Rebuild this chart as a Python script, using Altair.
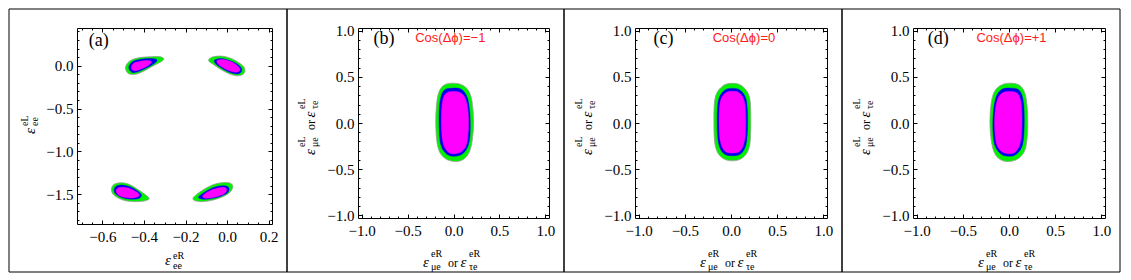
import altair as alt
import pandas as pd

SERIF = "Liberation Serif"
SANS = "Liberation Sans"

# ---------------- tick values ----------------
A_X_MAJOR = [-0.6, -0.4, -0.2, 0.0, 0.2]
A_X_MINOR = [-0.70, -0.65, -0.55, -0.50, -0.45, -0.35, -0.30, -0.25,
             -0.15, -0.10, -0.05, 0.05, 0.10, 0.15]
A_Y_MAJOR = [0.0, -0.5, -1.0, -1.5]
A_Y_MINOR = [0.4, 0.3, 0.2, 0.1, -0.1, -0.2, -0.3, -0.4, -0.6, -0.7, -0.8,
             -0.9, -1.1, -1.2, -1.3, -1.4, -1.6, -1.7, -1.8]
B_MAJOR = [-1.0, -0.5, 0.0, 0.5, 1.0]
B_MINOR = [-0.9, -0.8, -0.7, -0.6, -0.4, -0.3, -0.2, -0.1,
           0.1, 0.2, 0.3, 0.4, 0.6, 0.7, 0.8, 0.9]

A_XDOM = [-0.722, 0.216]
A_YDOM = [-1.846, 0.44]
B_XDOM = [-1.04, 1.04]
B_YDOM = [-1.03, 1.03]

# ---------------- contour outlines ----------------
A_TL_GREEN = [(-0.489, -0.025), (-0.476, 0.039), (-0.449, 0.078), (-0.410, 0.098), (-0.362, 0.105),
              (-0.322, 0.105), (-0.305, 0.082), (-0.314, 0.051), (-0.354, 0.000), (-0.402, -0.065),
              (-0.441, -0.100), (-0.475, -0.092)]
A_TL_BLUE = [(-0.473, -0.025), (-0.461, 0.035), (-0.434, 0.066), (-0.394, 0.082), (-0.354, 0.082),
             (-0.337, 0.066), (-0.349, 0.028), (-0.386, -0.025), (-0.426, -0.068), (-0.457, -0.078)]
A_TL_MAG = [(-0.461, -0.021), (-0.449, 0.029), (-0.422, 0.049), (-0.386, 0.060), (-0.365, 0.049),
            (-0.372, 0.018), (-0.397, -0.021), (-0.429, -0.052), (-0.451, -0.056)]

A_TR_GREEN = [(-0.089, 0.059), (-0.073, 0.100), (-0.029, 0.112), (0.019, 0.085), (0.059, 0.032),
              (0.084, -0.027), (0.081, -0.092), (0.051, -0.118), (0.011, -0.095), (-0.029, -0.045),
              (-0.064, 0.012)]
A_TR_BLUE = [(-0.060, 0.066), (-0.029, 0.085), (0.011, 0.062), (0.047, 0.022), (0.070, -0.035),
             (0.063, -0.085), (0.038, -0.095), (0.003, -0.068), (-0.032, -0.019), (-0.057, 0.028)]
A_TR_MAG = [(-0.048, 0.062), (-0.013, 0.070), (0.022, 0.042), (0.051, -0.004), (0.062, -0.052),
            (0.045, -0.075), (0.011, -0.060), (-0.021, -0.021), (-0.043, 0.020)]

A_BL_GREEN = [(-0.556, -1.437), (-0.545, -1.386), (-0.513, -1.365), (-0.473, -1.382), (-0.434, -1.435),
              (-0.402, -1.488), (-0.375, -1.546), (-0.394, -1.575), (-0.434, -1.585), (-0.481, -1.578),
              (-0.521, -1.547), (-0.549, -1.497)]
A_BL_BLUE = [(-0.543, -1.440), (-0.532, -1.404), (-0.505, -1.392), (-0.470, -1.410), (-0.438, -1.449),
             (-0.412, -1.505), (-0.425, -1.548), (-0.465, -1.556), (-0.502, -1.540), (-0.529, -1.508),
             (-0.541, -1.475)]
A_BL_MAG = [(-0.534, -1.450), (-0.521, -1.422), (-0.497, -1.418), (-0.463, -1.438), (-0.432, -1.478),
            (-0.423, -1.515), (-0.445, -1.540), (-0.481, -1.540), (-0.513, -1.522), (-0.529, -1.494)]

A_BR_GREEN = [(-0.164, -1.545), (-0.140, -1.488), (-0.108, -1.437), (-0.068, -1.388), (-0.029, -1.366),
              (0.010, -1.366), (0.028, -1.405), (0.014, -1.476), (-0.021, -1.528), (-0.068, -1.567),
              (-0.116, -1.585), (-0.153, -1.576)]
A_BR_BLUE = [(-0.138, -1.536), (-0.116, -1.486), (-0.084, -1.440), (-0.045, -1.406), (-0.013, -1.400),
             (0.008, -1.422), (0.003, -1.480), (-0.029, -1.522), (-0.068, -1.546), (-0.110, -1.558)]
A_BR_MAG = [(-0.118, -1.522), (-0.095, -1.472), (-0.061, -1.437), (-0.029, -1.419), (-0.005, -1.430),
            (-0.005, -1.472), (-0.030, -1.512), (-0.068, -1.538), (-0.103, -1.545)]

B_GREEN = [(-0.014, 0.432), (0.111, 0.403), (0.190, 0.288), (0.218, 0.036), (0.200, -0.215),
           (0.147, -0.359), (0.046, -0.417), (-0.086, -0.388), (-0.168, -0.269), (-0.193, 0.000),
           (-0.175, 0.270), (-0.122, 0.396)]
B_BLUE = [(-0.014, 0.378), (0.093, 0.360), (0.157, 0.252), (0.182, 0.036), (0.172, -0.197),
          (0.118, -0.316), (0.032, -0.359), (-0.068, -0.341), (-0.139, -0.233), (-0.157, 0.000),
          (-0.147, 0.234), (-0.104, 0.353)]
B_MAG = [(-0.014, 0.342), (0.082, 0.324), (0.139, 0.234), (0.164, 0.036), (0.150, -0.197),
         (0.104, -0.295), (0.032, -0.330), (-0.057, -0.316), (-0.114, -0.215), (-0.132, 0.000),
         (-0.122, 0.216), (-0.086, 0.317)]

C_GREEN = [(0.015, 0.430), (0.120, 0.400), (0.200, 0.280), (0.215, 0.020), (0.200, -0.250),
           (0.130, -0.375), (0.015, -0.410), (-0.100, -0.375), (-0.170, -0.250), (-0.185, 0.020),
           (-0.170, 0.280), (-0.090, 0.400)]
C_BLUE = [(0.015, 0.375), (0.100, 0.355), (0.165, 0.250), (0.180, 0.020), (0.165, -0.220),
          (0.110, -0.330), (0.015, -0.355), (-0.080, -0.330), (-0.135, -0.220), (-0.150, 0.020),
          (-0.135, 0.250), (-0.070, 0.355)]
C_MAG = [(0.015, 0.345), (0.090, 0.325), (0.145, 0.235), (0.160, 0.020), (0.145, -0.200),
         (0.095, -0.305), (0.015, -0.325), (-0.065, -0.305), (-0.115, -0.200), (-0.130, 0.020),
         (-0.115, 0.235), (-0.060, 0.325)]

D_GREEN = [(0.024, 0.432), (0.130, 0.396), (0.185, 0.270), (0.203, 0.000), (0.180, -0.269),
           (0.098, -0.388), (-0.034, -0.417), (-0.137, -0.359), (-0.188, -0.215), (-0.206, 0.036),
           (-0.178, 0.288), (-0.099, 0.403)]
D_BLUE = [(0.022, 0.378), (0.112, 0.353), (0.155, 0.234), (0.165, 0.000), (0.147, -0.233),
          (0.076, -0.341), (-0.024, -0.359), (-0.110, -0.316), (-0.164, -0.197), (-0.174, 0.036),
          (-0.149, 0.252), (-0.085, 0.360)]
D_MAG = [(0.022, 0.342), (0.094, 0.317), (0.130, 0.216), (0.140, 0.000), (0.122, -0.215),
         (0.065, -0.316), (-0.024, -0.330), (-0.096, -0.295), (-0.142, -0.197), (-0.156, 0.036),
         (-0.131, 0.234), (-0.074, 0.324)]

# ---------------- texts ----------------
PANEL_LABELS = ["(a)", "(b)", "(c)", "(d)"]
COS_TEXTS = ["Cos(Δϕ)=−1", "Cos(Δϕ)=0", "Cos(Δϕ)=+1"]
# (text, along, perp, size, style)
A_XTITLE = [("ε", 0, 0, 15, "italic"), ("eR", 8, -6, 10, "normal"), ("ee", 8, 3.5, 10, "normal")]
A_YTITLE = [("ε", 0, 0, 15, "italic"), ("eL", 8, -6.5, 10, "normal"), ("ee", 8, 3.5, 10, "normal")]
B_XTITLE = [("ε", 0, 0, 15, "italic"), ("eR", 8, -10, 10, "normal"), ("μe", 8, 3, 10, "normal"),
            ("or", 25, 0, 12, "normal"),
            ("ε", 37.5, 0, 15, "italic"), ("eR", 46, -10, 10, "normal"), ("τe", 46, 3, 10, "normal")]
B_YTITLE = [("ε", 0, 0, 15, "italic"), ("eL", 8, -10, 10, "normal"), ("μe", 8, 3, 10, "normal"),
            ("or", 25, 0, 12, "normal"),
            ("ε", 37.5, 0, 15, "italic"), ("eL", 46, -10, 10, "normal"), ("τe", 46, 3, 10, "normal")]

GREEN = "#00f000"
BLUE = "#0000ee"
MAGENTA = "#ff00ff"
RED = "#ff1a1a"

# frame margins around each plot area (pixels)
TOP_M = 19
LEFT_M = 71
RIGHT_M = 15
FRAME_H = 263

ONE = pd.DataFrame({"k": [0]})


def shape_df(shapes):
    rows = []
    for name, pts in shapes:
        for i, (x, y) in enumerate(pts):
            rows.append({"blob": name, "i": i, "x": x, "y": y})
    return pd.DataFrame(rows)


def contour(shapes, color, xs, ys, stroke, sw):
    return alt.Chart(shape_df(shapes)).mark_line(
        interpolate="cardinal-closed", fill=color, stroke=stroke, strokeWidth=sw
    ).encode(
        x=alt.X("x:Q", scale=xs, axis=None),
        y=alt.Y("y:Q", scale=ys, axis=None),
        detail="blob:N",
        order="i:Q",
    )


def mk_axis(orient, values, size, labels, pad=4):
    d = dict(orient=orient, values=values, offset=-size, tickSize=size, domain=False,
             grid=False, labels=labels, title=None, tickColor="black", tickWidth=1, ticks=True,
             minExtent=0, maxExtent=60)
    if labels:
        d.update(format=".1f", labelFont=SERIF, labelFontSize=15, labelColor="black",
                 labelPadding=pad, labelFlush=False, labelOverlap=False)
    return alt.Axis(**d)


def axis_layer(xs, ys, xv, yv, xaxis, yaxis):
    df = pd.DataFrame({"x": [xv], "y": [yv]})
    return alt.Chart(df).mark_point(opacity=0).encode(
        x=alt.X("x:Q", scale=xs, axis=xaxis),
        y=alt.Y("y:Q", scale=ys, axis=yaxis),
    )


def ptext(x, y, text, size, style="normal", angle=0):
    return alt.Chart(ONE).mark_text(
        text=text, font=SERIF, fontSize=size, fontStyle=style, angle=angle,
        color="black", align="left", baseline="alphabetic"
    ).encode(x=alt.value(x), y=alt.value(y))


def dtext(x, y, text, size, font, color, align, xs, ys):
    df = pd.DataFrame({"x": [x], "y": [y], "t": [text]})
    return alt.Chart(df).mark_text(
        font=font, fontSize=size, color=color, align=align, baseline="alphabetic"
    ).encode(
        x=alt.X("x:Q", scale=xs, axis=None),
        y=alt.Y("y:Q", scale=ys, axis=None),
        text="t:N",
    )


def title_layers(ax_, ay_, pieces, rotated):
    out = []
    for text, along, perp, size, style in pieces:
        if rotated:
            out.append(ptext(ax_ + perp, ay_ - along, text, size, style, 270))
        else:
            out.append(ptext(ax_ + along, ay_ + perp, text, size, style, 0))
    return out


def panel(w, h, l, xdom, ydom, xmaj, xmin, ymaj, ymin,
          greens, blues, mags, label, label_xy, cos, cos_x, xt, xt_anchor, yt, yt_anchor,
          xpad, ypad):
    xs = alt.Scale(domain=xdom, nice=False, zero=False)
    ys = alt.Scale(domain=ydom, nice=False, zero=False)
    frame = alt.Chart(ONE).mark_rect(fillOpacity=0, stroke="black", strokeWidth=1).encode(
        x=alt.value(-l), x2=alt.value(w + RIGHT_M), y=alt.value(-TOP_M),
        y2=alt.value(FRAME_H - TOP_M))
    layers = [frame,
              contour(greens, GREEN, xs, ys, "#9a9a9a", 0.8),
              contour(blues, BLUE, xs, ys, BLUE, 0.4),
              contour(mags, MAGENTA, xs, ys, MAGENTA, 0.4),
              axis_layer(xs, ys, xmaj[0], ymaj[0], mk_axis("bottom", xmaj, 4, True, xpad),
                         mk_axis("left", ymaj, 4, True, ypad)),
              axis_layer(xs, ys, xmaj[0], ymaj[0], mk_axis("bottom", xmin, 2, False),
                         mk_axis("left", ymin, 2, False)),
              axis_layer(xs, ys, xmaj[0], ymaj[0], mk_axis("top", xmaj, 4, False),
                         mk_axis("right", ymaj, 4, False)),
              axis_layer(xs, ys, xmaj[0], ymaj[0], mk_axis("top", xmin, 2, False),
                         mk_axis("right", ymin, 2, False)),
              dtext(label_xy[0], label_xy[1], label, 18, SERIF, "black", "left", xs, ys)]
    if cos is not None:
        layers.append(dtext(cos_x, 0.875, cos, 13, SANS, RED, "center", xs, ys))
    layers += title_layers(xt_anchor[0], xt_anchor[1], xt, False)
    layers += title_layers(yt_anchor[0], yt_anchor[1], yt, True)
    return alt.layer(*layers).resolve_axis(x="independent", y="independent").properties(
        width=w, height=h)


pa = panel(195, 196, 68, A_XDOM, A_YDOM, A_X_MAJOR, A_X_MINOR, A_Y_MAJOR, A_Y_MINOR,
           [("tl", A_TL_GREEN), ("tr", A_TR_GREEN), ("bl", A_BL_GREEN), ("br", A_BR_GREEN)],
           [("tl", A_TL_BLUE), ("tr", A_TR_BLUE), ("bl", A_BL_BLUE), ("br", A_BR_BLUE)],
           [("tl", A_TL_MAG), ("tr", A_TR_MAG), ("bl", A_BL_MAG), ("br", A_BR_MAG)],
           PANEL_LABELS[0], (-0.665, 0.23), None, 0,
           A_XTITLE, (88, 237), A_YTITLE, (-42.5, 106), 5, 4)

pb = panel(191, 190, LEFT_M, B_XDOM, B_YDOM, B_MAJOR, B_MINOR, B_MAJOR, B_MINOR,
           [("o", B_GREEN)], [("o", B_BLUE)], [("o", B_MAG)],
           PANEL_LABELS[1], (-0.87, 0.86), COS_TEXTS[0], -0.035,
           B_XTITLE, (65, 239), B_YTITLE, (-43, 127), 5, 4)

pc = panel(192, 190, LEFT_M, B_XDOM, B_YDOM, B_MAJOR, B_MINOR, B_MAJOR, B_MINOR,
           [("o", C_GREEN)], [("o", C_BLUE)], [("o", C_MAG)],
           PANEL_LABELS[2], (-0.84, 0.86), COS_TEXTS[1], 0.14,
           B_XTITLE, (65, 239), B_YTITLE, (-43, 127), 5, 4)

pd_ = panel(192, 190, LEFT_M, B_XDOM, B_YDOM, B_MAJOR, B_MINOR, B_MAJOR, B_MINOR,
            [("o", D_GREEN)], [("o", D_BLUE)], [("o", D_MAG)],
            PANEL_LABELS[3], (-0.88, 0.86), COS_TEXTS[2], 0.027,
            B_XTITLE, (65, 239), B_YTITLE, (-43, 127), 5, 4)

chart = alt.hconcat(pa, pb, pc, pd_, spacing=RIGHT_M + LEFT_M, bounds="flush").properties(
    padding=0, background="white"
).configure_view(stroke="black", strokeWidth=1)

chart.save("out.html", embed_options={"renderer": "svg", "actions": False})
